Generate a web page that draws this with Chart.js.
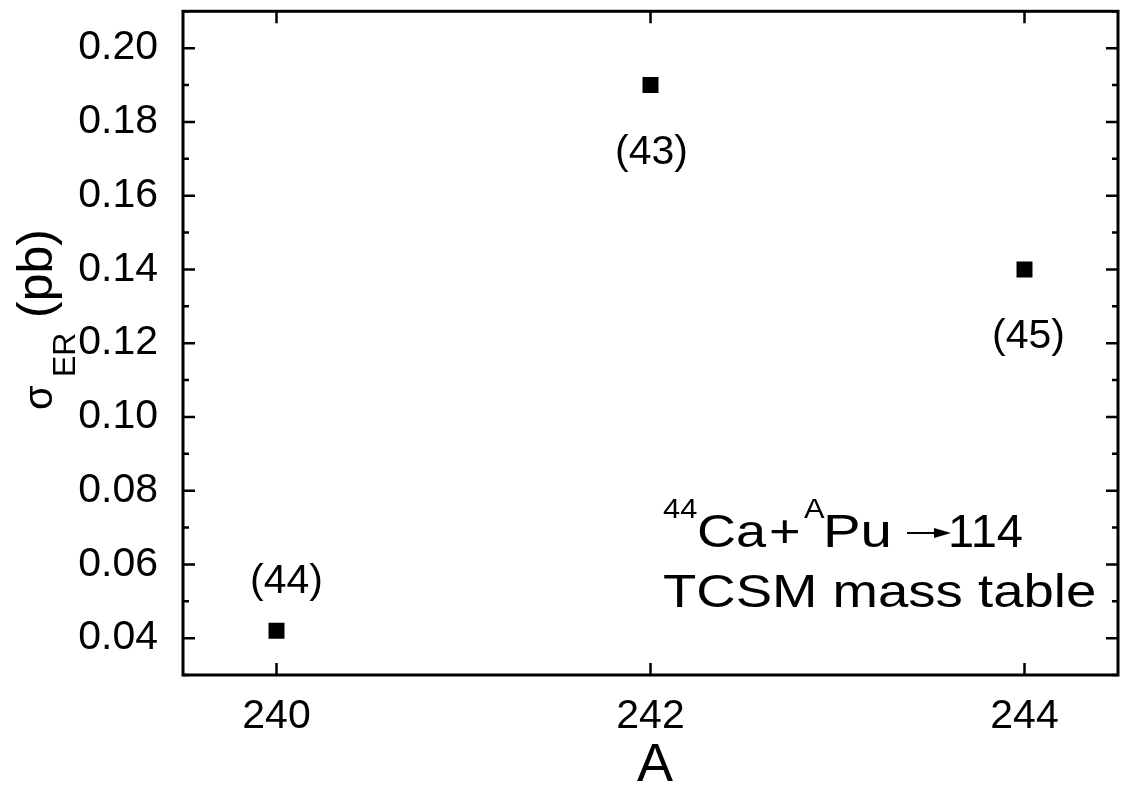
<!DOCTYPE html>
<html>
<head>
<meta charset="utf-8">
<title>σ_ER vs A — 44Ca + APu → 114</title>
<script src="https://cdn.jsdelivr.net/npm/chart.js@4.4.1/dist/chart.umd.min.js"></script>
<style>
  html, body { margin: 0; padding: 0; background: #ffffff; overflow: hidden; }
  #wrap { width: 1122px; height: 785px; position: relative; overflow: hidden; }
  canvas { display: block; }
</style>
</head>
<body>
<!-- the canvas runs 8px past the visible frame to absorb the marker overflow padding -->
<div id="wrap"><canvas id="chart" width="1130" height="785"></canvas></div>
<script>
// Mass number of the Pu target and evaporation-residue cross section (pb)
const massNumbers = [240, 242, 244];
const crossSections = [0.042, 0.19, 0.14];
// Neutron number annotations printed beside each point
const pointLabels = ['(44)', '(43)', '(45)'];

// Axis ticks
const xTickValues = [240, 242, 244];
const yTickValues = [0.04, 0.06, 0.08, 0.10, 0.12, 0.14, 0.16, 0.18, 0.20];
const yMinorTickValues = [0.03, 0.05, 0.07, 0.09, 0.11, 0.13, 0.15, 0.17, 0.19, 0.21];

const FONT = '"Liberation Sans", Arial, Helvetica, sans-serif';

// Where each point label sits relative to its marker
const labelPlacement = [
  { dx: 10, dy: -38 },
  { dx: 1, dy: 79 },
  { dx: 4, dy: 79 }
];

const framePlugin = {
  id: 'frame',
  beforeDatasetsDraw(chart) {
    const { ctx, chartArea: a, scales } = chart;
    const xs = scales.x, ys = scales.y;
    ctx.save();
    ctx.strokeStyle = '#000';
    ctx.lineCap = 'butt';
    // inward tick marks on all four sides
    ctx.lineWidth = 2.5;
    ctx.beginPath();
    yTickValues.forEach(v => {
      const y = ys.getPixelForValue(v);
      ctx.moveTo(a.left, y); ctx.lineTo(a.left + 12, y);
      ctx.moveTo(a.right, y); ctx.lineTo(a.right - 12, y);
    });
    yMinorTickValues.forEach(v => {
      const y = ys.getPixelForValue(v);
      ctx.moveTo(a.left, y); ctx.lineTo(a.left + 6, y);
      ctx.moveTo(a.right, y); ctx.lineTo(a.right - 6, y);
    });
    xTickValues.forEach(v => {
      const x = xs.getPixelForValue(v);
      ctx.moveTo(x, a.bottom); ctx.lineTo(x, a.bottom - 12);
      ctx.moveTo(x, a.top); ctx.lineTo(x, a.top + 12);
    });
    ctx.stroke();
    // box
    ctx.lineWidth = 3;
    ctx.strokeRect(a.left, a.top, a.right - a.left, a.bottom - a.top);
    ctx.restore();
  },
  afterDatasetsDraw(chart) {
    const { ctx } = chart;
    const meta = chart.getDatasetMeta(0);
    ctx.save();
    ctx.fillStyle = '#000';
    ctx.textAlign = 'center';
    ctx.textBaseline = 'alphabetic';
    ctx.font = '41px ' + FONT;
    meta.data.forEach((pt, i) => {
      const p = labelPlacement[i];
      ctx.fillText(pointLabels[i], pt.x + p.dx, pt.y + p.dy);
    });
    ctx.restore();
  },
  afterDraw(chart) {
    const { ctx } = chart;
    ctx.save();
    ctx.fillStyle = '#000';
    ctx.textBaseline = 'alphabetic';

    // x-axis title
    ctx.textAlign = 'center';
    ctx.font = '54px ' + FONT;
    ctx.fillText('A', 655, 781);

    // y-axis title: σ_ER (pb), rotated
    ctx.save();
    ctx.translate(52, 408);
    ctx.rotate(-Math.PI / 2);
    ctx.textAlign = 'left';
    ctx.font = '40px ' + FONT;
    ctx.fillText('σ', -2, 0);
    ctx.font = '32px ' + FONT;
    ctx.fillText('ER', 31, 23);
    ctx.font = '50px ' + FONT;
    ctx.fillText('(pb)', 90, 0);
    ctx.restore();

    // reaction annotation
    ctx.textAlign = 'left';
    const drawStretched = (text, x, y, size, sx) => {
      ctx.save();
      ctx.translate(x, y);
      ctx.scale(sx, 1);
      ctx.font = size + 'px ' + FONT;
      ctx.fillText(text, 0, 0);
      ctx.restore();
    };
    drawStretched('44', 663, 518, 28, 1.1);
    drawStretched('Ca', 697, 547, 47, 1.15);
    drawStretched('+', 769, 547, 47, 1.15);
    drawStretched('A', 804, 518, 28, 1.1);
    drawStretched('Pu', 823, 547, 47, 1.2);
    // reaction arrow
    ctx.strokeStyle = '#000';
    ctx.lineWidth = 2;
    ctx.beginPath();
    ctx.moveTo(907, 533); ctx.lineTo(938, 533);
    ctx.stroke();
    ctx.beginPath();
    ctx.moveTo(951, 533); ctx.lineTo(934, 528); ctx.lineTo(934, 538); ctx.closePath();
    ctx.fill();
    drawStretched('114', 948, 547, 47, 1.0);
    drawStretched('TCSM mass table', 663, 607, 47, 1.16);
    ctx.restore();
  }
};

// Scale boxes keep no extra padding, so the plot frame spans the full area
const noPadding = s => { s.paddingTop = 0; s.paddingBottom = 0; s.paddingLeft = 0; s.paddingRight = 0; };

new Chart(document.getElementById('chart'), {
  type: 'scatter',
  data: {
    datasets: [{
      data: massNumbers.map((a, i) => ({ x: a, y: crossSections[i] })),
      pointStyle: 'rect',
      pointRadius: 11.3,
      pointHoverRadius: 11.3,
      backgroundColor: '#000',
      borderColor: '#000',
      borderWidth: 0,
      showLine: false
    }]
  },
  options: {
    responsive: false,
    animation: false,
    events: [],
    layout: { padding: { top: 11, right: 12, left: 0, bottom: 0 } },
    plugins: { legend: { display: false }, tooltip: { enabled: false } },
    scales: {
      x: {
        type: 'linear',
        min: 239.5,
        max: 244.5,
        afterBuildTicks: s => { s.ticks = xTickValues.map(v => ({ value: v })); },
        afterFit: s => { s.height = 110; noPadding(s); },
        grid: { display: false },
        border: { display: false },
        ticks: {
          color: '#000',
          font: { family: FONT, size: 41 },
          padding: 9,
          maxRotation: 0,
          callback: v => String(v)
        }
      },
      y: {
        type: 'linear',
        min: 0.03,
        max: 0.21,
        afterBuildTicks: s => { s.ticks = yTickValues.map(v => ({ value: v })); },
        afterFit: s => { s.width = 183; noPadding(s); },
        grid: { display: false },
        border: { display: false },
        ticks: {
          color: '#000',
          font: { family: FONT, size: 41 },
          padding: 17,
          callback: v => v.toFixed(2)
        }
      }
    }
  },
  plugins: [framePlugin]
});
</script>
</body>
</html>
